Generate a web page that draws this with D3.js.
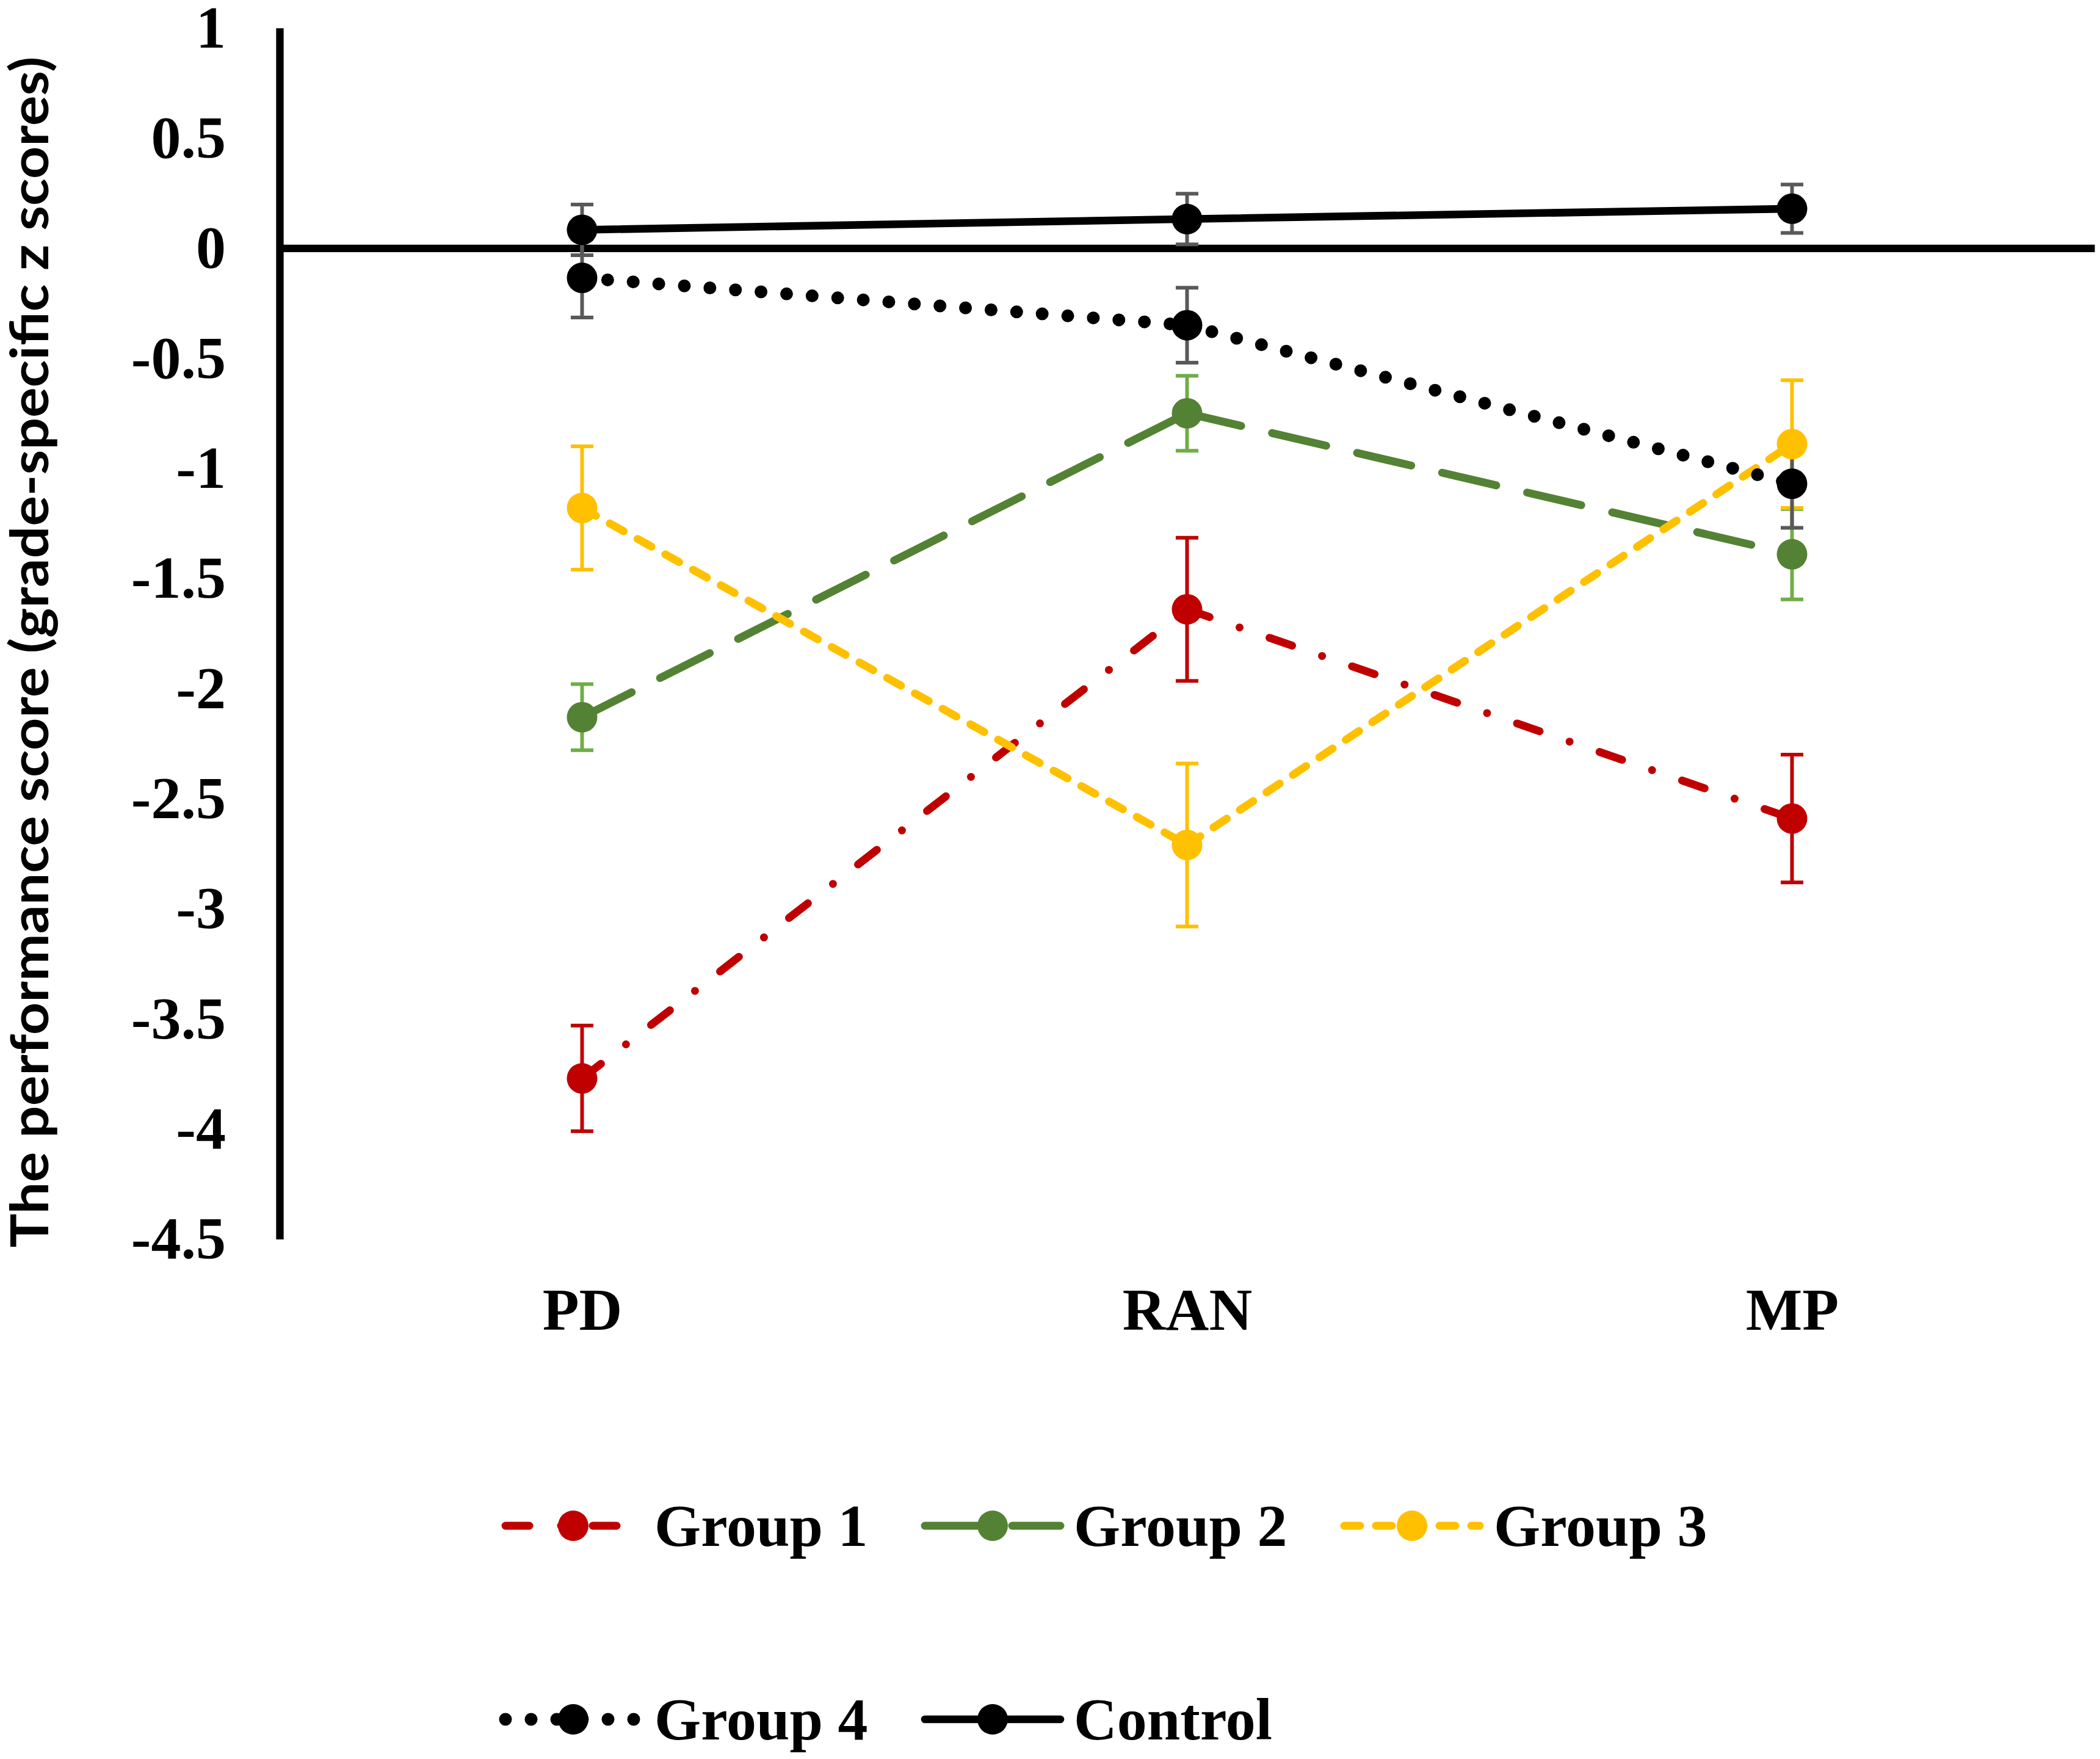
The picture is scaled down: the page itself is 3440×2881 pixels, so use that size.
<!DOCTYPE html>
<html>
<head>
<meta charset="utf-8">
<script src="https://cdn.jsdelivr.net/npm/d3@7"></script>
<style>
  html, body { margin: 0; padding: 0; background: #ffffff; }
  svg { display: block; }
</style>
</head>
<body>
<svg id="chart" width="3440" height="2881"></svg>
<script>
// ---------------- data ----------------
const categories = ["PD", "RAN", "MP"];
const yTickValues = [1, 0.5, 0, -0.5, -1, -1.5, -2, -2.5, -3, -3.5, -4, -4.5];
const yTickLabels = ["1", "0.5", "0", "-0.5", "-1", "-1.5", "-2", "-2.5", "-3", "-3.5", "-4", "-4.5"];
const yAxisTitle = "The performance score (grade-specific z scores)";

const seriesNames = ["Group 1", "Group 2", "Group 3", "Group 4", "Control"];
const group1 = [-3.77, -1.64, -2.59];
const group1Err = [0.24, 0.325, 0.29];
const group2 = [-2.13, -0.75, -1.39];
const group2Err = [0.15, 0.17, 0.205];
const group3 = [-1.18, -2.71, -0.89];
const group3Err = [0.28, 0.37, 0.29];
const group4 = [-0.135, -0.35, -1.07];
const group4Err = [0.18, 0.17, 0.2];
const control = [0.083, 0.132, 0.179];
const controlErr = [0.115, 0.115, 0.11];

// ---------------- styles ----------------
const styles = [
  { color: "#C00000", errColor: "#C00000", width: 13, dash: "39 52 0 52" },
  { color: "#548235", errColor: "#70AD47", width: 13, dash: "91 52" },
  { color: "#FFC000", errColor: "#FFC000", width: 13, dash: "26 26" },
  { color: "#000000", errColor: "#595959", width: 21, dash: "0 42" },
  { color: "#000000", errColor: "#595959", width: 12.6, dash: null }
];
const seriesValues = [group1, group2, group3, group4, control];
const seriesErrors = [group1Err, group2Err, group3Err, group4Err, controlErr];

const series = seriesNames.map((name, i) => ({
  name,
  style: styles[i],
  points: categories.map((c, j) => ({ cat: c, v: seriesValues[i][j], e: seriesErrors[i][j] }))
}));

// ---------------- layout ----------------
const svg = d3.select("#chart");
svg.append("rect").attr("width", 3440).attr("height", 2881).attr("fill", "#ffffff");

const plotLeft = 458, plotRight = 3431;
const x = d3.scalePoint().domain(categories).range([plotLeft, plotRight]).padding(0.5);
const y = d3.scaleLinear().domain([-4.5, 1]).range([2029.6, 45.7]);

const serif = "'Liberation Serif', 'Times New Roman', serif";
const markerR = 25;

// y axis
const yAxis = d3.axisLeft(y)
  .tickValues(yTickValues)
  .tickFormat((d, i) => yTickLabels[i])
  .tickSize(0)
  .tickPadding(88);
const gy = svg.append("g").attr("transform", `translate(${plotLeft},0)`).call(yAxis);
gy.select(".domain").attr("stroke", "#000").attr("stroke-width", 12.3);
gy.selectAll(".tick text")
  .attr("font-family", serif).attr("font-weight", "bold").attr("font-size", 98).attr("fill", "#000");

// horizontal axis line at zero
const xAxisLine = d3.axisBottom(x).tickSize(0).tickFormat("");
const gx = svg.append("g").attr("transform", `translate(0,${y(0)})`).call(xAxisLine);
gx.select(".domain").attr("stroke", "#000").attr("stroke-width", 12.3);
gx.selectAll(".tick").remove();

// category labels (low position)
const xLabels = d3.axisBottom(x).tickSize(0).tickPadding(0);
const gxl = svg.append("g").attr("transform", `translate(0,2178)`).call(xLabels);
gxl.select(".domain").remove();
gxl.selectAll(".tick text")
  .attr("dy", 0).attr("y", 0)
  .attr("font-family", serif).attr("font-weight", "bold").attr("font-size", 98).attr("fill", "#000");

// y axis title
const title = svg.append("text")
  .attr("transform", "translate(79,1068) rotate(-90)")
  .attr("text-anchor", "middle")
  .attr("font-family", "Lato, 'Open Sans', sans-serif")
  .attr("font-weight", "bold")
  .attr("font-size", 86)
  .attr("fill", "#000")
  .text(yAxisTitle);
title.attr("textLength", 1951).attr("lengthAdjust", "spacingAndGlyphs");

// ---------------- series ----------------
const line = d3.line().x(d => x(d.cat)).y(d => y(d.v));

// lines (each segment restarts dash pattern)
const gLines = svg.append("g");
series.forEach(s => {
  for (let i = 0; i < s.points.length - 1; i++) {
    gLines.append("path")
      .attr("d", line([s.points[i], s.points[i + 1]]))
      .attr("fill", "none")
      .attr("stroke", s.style.color)
      .attr("stroke-width", s.style.width)
      .attr("stroke-linecap", "round")
      .attr("stroke-dasharray", s.style.dash);
  }
});

// error bars
const capHalf = 18.5;
const gErr = svg.append("g");
series.forEach(s => {
  const g = gErr.append("g").attr("stroke", s.style.errColor).attr("stroke-width", 6).attr("fill", "none");
  s.points.forEach(p => {
    const cx = x(p.cat);
    g.append("line").attr("x1", cx).attr("x2", cx).attr("y1", y(p.v + p.e)).attr("y2", y(p.v - p.e));
    g.append("line").attr("x1", cx - capHalf).attr("x2", cx + capHalf).attr("y1", y(p.v + p.e)).attr("y2", y(p.v + p.e));
    g.append("line").attr("x1", cx - capHalf).attr("x2", cx + capHalf).attr("y1", y(p.v - p.e)).attr("y2", y(p.v - p.e));
  });
});

// markers
const gMarkers = svg.append("g");
series.forEach(s => {
  gMarkers.append("g").selectAll("circle").data(s.points).join("circle")
    .attr("cx", d => x(d.cat)).attr("cy", d => y(d.v)).attr("r", markerR)
    .attr("fill", s.style.color);
});

// ---------------- legend ----------------
const legendItems = [
  { s: 0, mx: 939, tx: 1072, cy: 2499 },
  { s: 1, mx: 1626, tx: 1759, cy: 2499 },
  { s: 2, mx: 2313, tx: 2447, cy: 2499 },
  { s: 3, mx: 939, tx: 1072, cy: 2816 },
  { s: 4, mx: 1626, tx: 1759, cy: 2816 }
];
const gLeg = svg.append("g");
legendItems.forEach(it => {
  const s = series[it.s];
  gLeg.append("line")
    .attr("x1", it.mx - 111).attr("x2", it.mx + 111)
    .attr("y1", it.cy).attr("y2", it.cy)
    .attr("stroke", s.style.color)
    .attr("stroke-width", s.style.width)
    .attr("stroke-linecap", "round")
    .attr("stroke-dasharray", s.style.dash);
  gLeg.append("circle").attr("cx", it.mx).attr("cy", it.cy).attr("r", markerR).attr("fill", s.style.color);
  gLeg.append("text")
    .attr("x", it.tx).attr("y", it.cy + 33)
    .attr("font-family", serif).attr("font-weight", "bold").attr("font-size", 98).attr("fill", "#000")
    .text(s.name);
});
</script>
</body>
</html>
